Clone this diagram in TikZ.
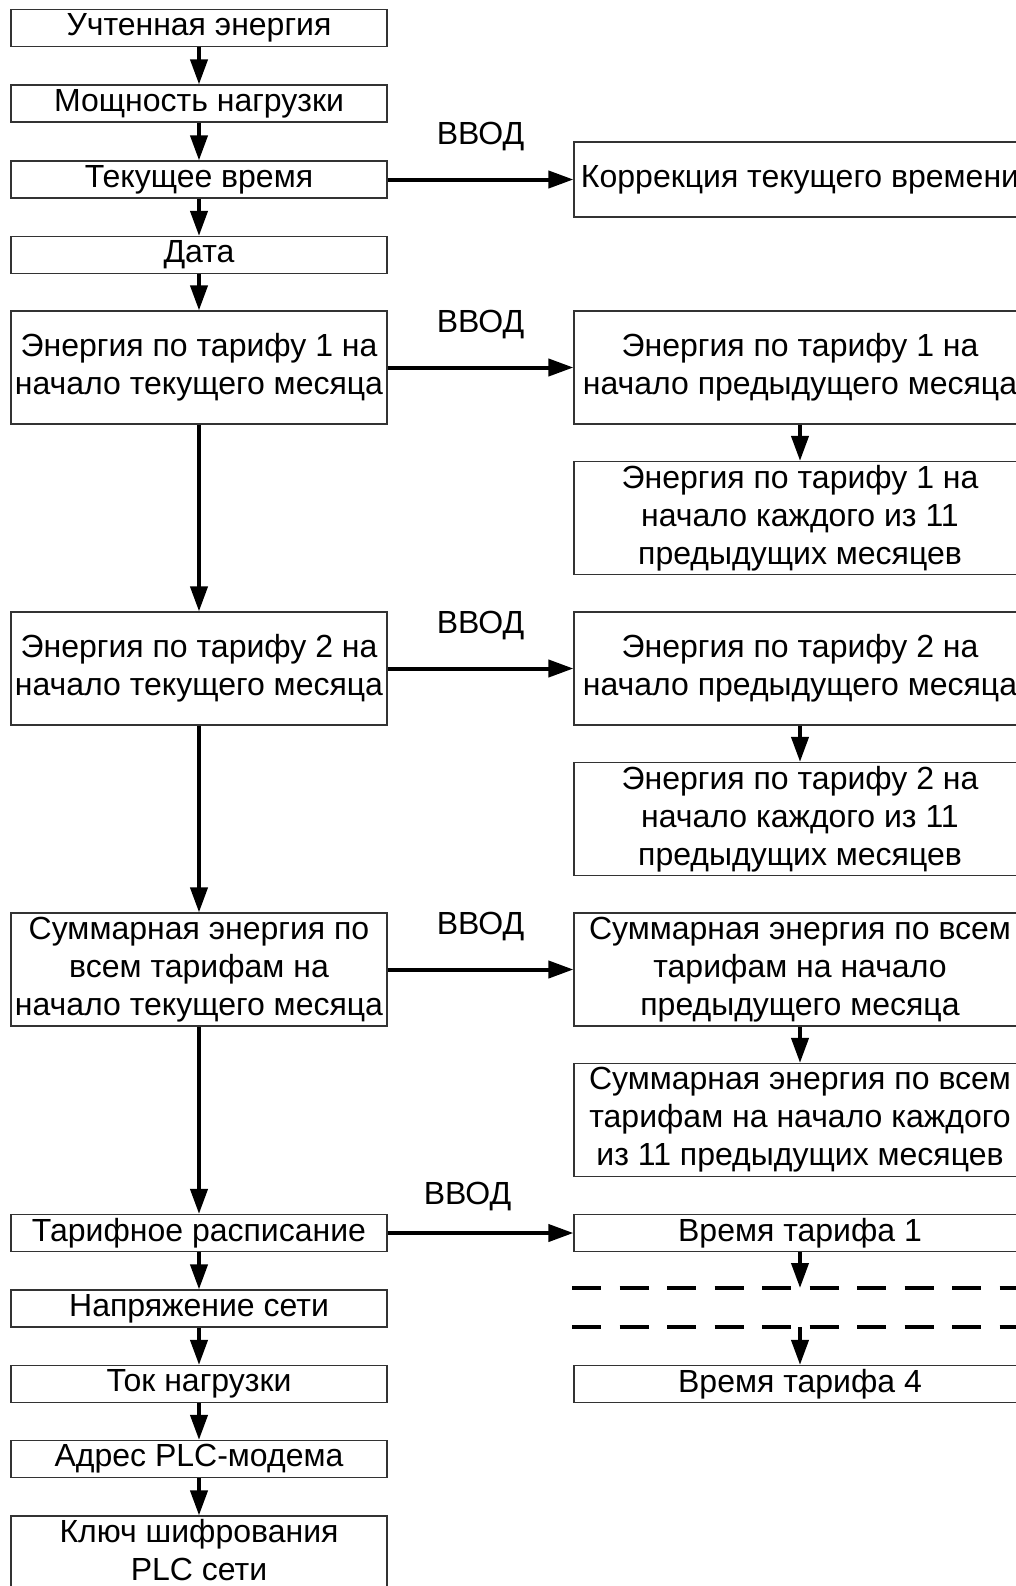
\documentclass[tikz,border=0pt]{standalone}
\usepackage{fontspec}
\setmainfont{Liberation Sans}
\usetikzlibrary{arrows.meta}

\begin{document}
\begin{tikzpicture}[x=0.5pt,y=-0.5pt,
    blk/.style={draw=black!80, line width=0.6pt, align=center, inner sep=0pt,
        font=\fontsize{16}{19}\selectfont},
    lbox/.style={blk, minimum width=188pt},
    rbox/.style={blk, minimum width=226pt},
    onerow/.style={minimum height=18.5pt},
    tworow/.style={minimum height=37.5pt},
    threerow/.style={minimum height=56.5pt},
    arr/.style={line width=2pt, -{Triangle[length=12.5pt,width=8.5pt]}},
    dashline/.style={line width=2pt, dash pattern=on 14.5pt off 9.25pt},
    lbl/.style={font=\fontsize{16}{19}\selectfont, inner sep=0pt}]
    \useasboundingbox (0,0) rectangle (1016,1586);
    \clip (0,0) rectangle (1016,1586);

    % Left column
    \node[lbox,onerow] (uchet) at (199,28) {Учтенная энергия};
    \node[lbox,onerow] (moshch) at (199,103.5) {Мощность нагрузки};
    \node[lbox,onerow] (vremya) at (199,179.5) {Текущее время};
    \node[lbox,onerow] (data) at (199,255) {Дата};
    \node[lbox,threerow] (tar1) at (199,367.5) {Энергия по тарифу 1 на\\начало текущего месяца};
    \node[lbox,threerow] (tar2) at (199,668.5) {Энергия по тарифу 2 на\\начало текущего месяца};
    \node[lbox,threerow] (summ) at (199,969.5) {Суммарная энергия по\\всем тарифам на\\начало текущего месяца};
    \node[lbox,onerow] (raspis) at (199,1233) {Тарифное расписание};
    \node[lbox,onerow] (napr) at (199,1308.5) {Напряжение сети};
    \node[lbox,onerow] (tok) at (199,1384) {Ток нагрузки};
    \node[lbox,onerow] (adres) at (199,1459) {Адрес PLC-модема};
    \node[lbox,tworow,text depth=3.4pt] (klyuch) at (199,1553.5) {Ключ шифрования\\PLC сети};

    % Right column
    \node[rbox,tworow] (korr) at (800,179.5) {Коррекция текущего времени};
    \node[rbox,threerow] (tar1pr) at (800,367.5) {Энергия по тарифу 1 на\\начало предыдущего месяца};
    \node[rbox,threerow] (tar1v) at (800,518) {Энергия по тарифу 1 на\\начало каждого из 11\\предыдущих месяцев};
    \node[rbox,threerow] (tar2pr) at (800,668.5) {Энергия по тарифу 2 на\\начало предыдущего месяца};
    \node[rbox,threerow] (tar2v) at (800,819) {Энергия по тарифу 2 на\\начало каждого из 11\\предыдущих месяцев};
    \node[rbox,threerow] (summpr) at (800,969.5) {Суммарная энергия по всем\\тарифам на начало\\предыдущего месяца};
    \node[rbox,threerow] (summv) at (800,1120) {Суммарная энергия по всем\\тарифам на начало каждого\\из 11 предыдущих месяцев};
    \node[rbox,onerow] (vr1) at (800,1233) {Время тарифа 1};
    \node[rbox,onerow] (vr4) at (800,1384) {Время тарифа 4};

    % Skipped tariffs
    \coordinate (d1) at (800,1288);
    \coordinate (d2) at (800,1327);
    \draw[dashline] (572,1288) -- (1040,1288);
    \draw[dashline] (572,1327) -- (1040,1327);

    % Arrows down
    \foreach \a/\b in {uchet/moshch, moshch/vremya, vremya/data, data/tar1,
        tar1/tar2, tar2/summ, summ/raspis, raspis/napr, napr/tok, tok/adres,
        adres/klyuch, tar1pr/tar1v, tar2pr/tar2v, summpr/summv}
        \draw[arr] (\a) -- (\b);
    \draw[arr] (vr1) -- (d1);
    \draw[arr] (d2) -- (vr4);

    % Input arrows
    \foreach \a/\b in {vremya/korr, tar1/tar1pr, tar2/tar2pr, summ/summpr}
        \draw[arr] (\a.east) -- node[lbl, above=13.25pt] {ВВОД} (\b.west);
    \draw[arr] (raspis.east) -- node[lbl, above=10.25pt, xshift=-6.5pt] {ВВОД} (vr1.west);
\end{tikzpicture}
\end{document}
